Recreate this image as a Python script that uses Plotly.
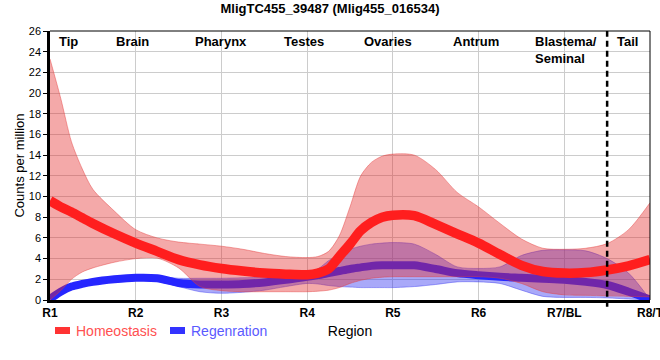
import plotly.graph_objects as go

# ---- data ----
region_ticks = ["R1", "R2", "R3", "R4", "R5", "R6", "R7/BL", "R8/T"]
region_names = ["Tip", "Brain", "Pharynx", "Testes", "Ovaries", "Antrum", "Blastema/<br>Seminal", "Tail"]

x_pos = [0, 0.125, 0.25, 0.375, 0.5, 0.75, 1, 1.25, 1.5, 1.75, 2, 2.25, 2.5, 2.75, 3,
         3.125, 3.25, 3.375, 3.5, 3.625, 3.75, 3.875, 4, 4.25, 4.5, 4.75, 5, 5.25, 5.5,
         5.75, 6, 6.25, 6.5, 6.75, 7]

homeo_mean = [9.6, 9.0, 8.5, 7.95, 7.4, 6.4, 5.5, 4.7, 3.9, 3.4, 3.05, 2.8, 2.6, 2.5, 2.45,
              2.6, 3.0, 4.2, 5.4, 6.7, 7.5, 8.0, 8.2, 8.15, 7.3, 6.4, 5.5, 4.4, 3.35,
              2.75, 2.6, 2.65, 2.9, 3.3, 3.9]
homeo_upper = [23.3, 19.5, 15.3, 12.7, 10.7, 8.6, 6.8, 6.0, 5.6, 5.4, 5.2, 4.9, 4.5, 4.2, 4.1,
               4.2, 4.7, 6.2, 9.0, 12.0, 13.3, 13.9, 14.1, 14.0, 12.6, 10.4, 9.0, 7.4, 5.9,
               5.0, 4.9, 5.0, 5.45, 6.8, 9.4]
homeo_lower = [0.0, 0.9, 2.0, 2.7, 3.1, 3.65, 4.0, 4.05, 3.1, 1.3, 0.9, 0.8, 0.8, 0.8, 0.8,
               0.85, 0.95, 1.2, 1.6, 1.9, 2.1, 2.2, 2.25, 2.25, 2.25, 2.25, 2.25, 2.1, 1.6,
               0.8, 0.5, 0.45, 0.4, 0.35, 0.3]

regen_mean = [0.1, 0.8, 1.3, 1.55, 1.75, 2.0, 2.15, 2.1, 1.65, 1.5, 1.5, 1.55, 1.7, 1.95, 2.25,
              2.4, 2.6, 2.8, 3.0, 3.15, 3.3, 3.35, 3.35, 3.35, 3.0, 2.6, 2.4, 2.25, 2.15,
              2.05, 1.95, 1.75, 1.45, 0.8, 0.05]
regen_upper = [0.35, 1.1, 1.6, 1.85, 2.0, 2.25, 2.35, 2.3, 2.1, 2.1, 2.1, 2.15, 2.2, 2.35, 2.7,
               3.0, 3.8, 4.4, 4.9, 5.2, 5.4, 5.5, 5.55, 5.4, 4.4, 3.2, 3.05, 3.2, 4.3,
               4.8, 4.85, 4.75, 4.0, 2.6, 0.05]
regen_lower = [0.0, 0.6, 1.05, 1.3, 1.5, 1.75, 1.9, 1.8, 1.3, 0.8, 0.65, 0.75, 0.95, 1.3, 1.6,
               1.55, 1.4, 1.3, 1.25, 1.2, 1.2, 1.2, 1.2, 1.3, 1.5, 1.75, 1.75, 1.6, 0.95,
               0.35, 0.25, 0.25, 0.2, 0.1, 0.0]

series_names = ["Homeostasis", "Regenration"]

# ---- styles ----
FONT = "Arial, Liberation Sans, sans-serif"
RED_LINE = "#ff1e1e"
BLUE_LINE = "#2626ff"
RED_FILL = "rgba(228,40,40,0.40)"
BLUE_FILL = "rgba(40,40,240,0.40)"

fig = go.Figure()

def band(lower, upper, fill, edge):
    fig.add_trace(go.Scatter(x=x_pos, y=lower, mode="lines",
                             line=dict(color=edge, width=1, shape="spline", smoothing=0.8),
                             hoverinfo="skip", showlegend=False))
    fig.add_trace(go.Scatter(x=x_pos, y=upper, mode="lines", fill="tonexty", fillcolor=fill,
                             line=dict(color=edge, width=1, shape="spline", smoothing=0.8),
                             hoverinfo="skip", showlegend=False))

# regeneration first (underneath), homeostasis drawn over it
band(regen_lower, regen_upper, BLUE_FILL, "rgba(60,60,240,0.45)")
fig.add_trace(go.Scatter(x=x_pos, y=regen_mean, mode="lines", name=series_names[1],
                         line=dict(color=BLUE_LINE, width=8, shape="spline", smoothing=0.8),
                         showlegend=False))
band(homeo_lower, homeo_upper, RED_FILL, "rgba(228,60,60,0.45)")
fig.add_trace(go.Scatter(x=x_pos, y=homeo_mean, mode="lines", name=series_names[0],
                         line=dict(color=RED_LINE, width=9.5, shape="spline", smoothing=0.8),
                         showlegend=False))

# dashed separator between R7/BL and R8/T
fig.add_shape(type="line", xref="x", yref="paper", x0=6.5, x1=6.5, y0=-0.025, y1=1,
              line=dict(color="black", width=2.5, dash="6px,4px"))
# thin top/right frame
fig.add_shape(type="line", xref="paper", yref="paper", x0=0, x1=1, y0=1, y1=1,
              line=dict(color="black", width=1))
fig.add_shape(type="line", xref="paper", yref="paper", x0=1, x1=1, y0=0, y1=1,
              line=dict(color="black", width=1))

# region names along the top
name_x = [0.22, 0.965, 1.99, 2.965, 3.94, 4.975, 6.015, 6.74]
for nm, xx in zip(region_names, name_x):
    fig.add_annotation(x=xx, y=0.995, xref="x", yref="paper", text=f"<b>{nm}</b>",
                       showarrow=False, xanchor="center", yanchor="top", align="left",
                       font=dict(family=FONT, size=13, color="black"))

# manual legend
legend_colors = ["#ff3333", "#3333ff"]
legend_text_colors = ["#ff5050", "#5a5aff"]
legend_x = [0.0083, 0.2]
for nm, c, tc, lx in zip(series_names, legend_colors, legend_text_colors, legend_x):
    fig.add_shape(type="rect", xref="paper", yref="paper", x0=lx, x1=lx + 0.025,
                  y0=-0.1264, y1=-0.1004, line=dict(width=0), fillcolor=c)
    fig.add_annotation(x=lx + 0.032, y=-0.1134, xref="paper", yref="paper", text=nm,
                       showarrow=False, xanchor="left", yanchor="middle",
                       font=dict(family=FONT, size=14, color=tc))

fig.update_layout(
    width=660, height=360,
    margin=dict(l=50, r=10, t=31, b=60, autoexpand=False),
    paper_bgcolor="white", plot_bgcolor="white",
    title=dict(text="<b>MligTC455_39487 (Mlig455_016534)</b>", x=0.5, xanchor="center",
               y=0.976, yanchor="middle", font=dict(family=FONT, size=13, color="black")),
    font=dict(family=FONT, color="black"),
    showlegend=False,
)
fig.update_xaxes(range=[0, 7], tickvals=list(range(8)),
                 ticktext=[f"<b>{t}</b>" for t in region_ticks],
                 tickfont=dict(family=FONT, size=12, color="black"),
                 ticklabeloverflow="allow", automargin=False,
                 showgrid=True, gridcolor="#cccccc", gridwidth=1,
                 showline=True, linecolor="black", linewidth=2.5,
                 ticks="", zeroline=False,
                 title=dict(text="Region", font=dict(family=FONT, size=14, color="black"),
                            standoff=8))
fig.update_yaxes(range=[0, 26], dtick=2, tick0=0, automargin=False,
                 tickfont=dict(family=FONT, size=11, color="black"),
                 showgrid=True, gridcolor="#cccccc", gridwidth=1,
                 showline=True, linecolor="black", linewidth=2.5,
                 ticks="outside", ticklen=4, tickcolor="black", zeroline=False,
                 title=dict(text="Counts per million", font=dict(family=FONT, size=13, color="black"),
                            standoff=2))

fig.write_html("out.html", config={"displayModeBar": False},
               post_script="document.body.style.margin='0';")
